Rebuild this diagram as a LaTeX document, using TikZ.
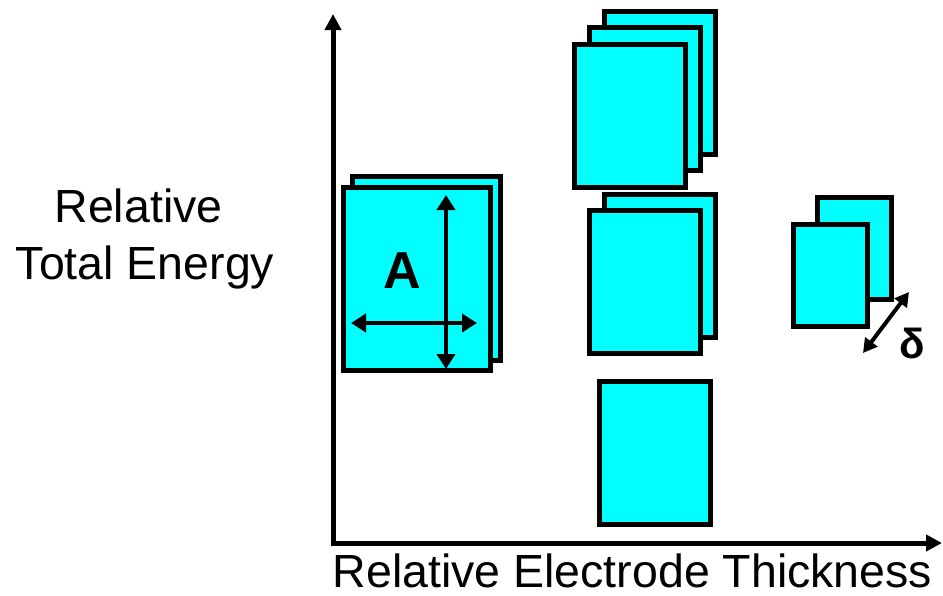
\documentclass[tikz,border=0pt]{standalone}
\usepackage{fontspec}
\setmainfont{Liberation Sans}
\usetikzlibrary{
        arrows.meta,
        positioning
    }
\definecolor{platecyan}{RGB}{0,255,255}
\tikzset{>={Triangle[length=16pt,width=16pt]}}
\tikzset{plate/.style={draw=black,line width=5pt,fill=platecyan,inner sep=0pt,
        minimum width=111pt,minimum height=143pt}}
\tikzset{label text/.style={inner sep=0pt,anchor=base,
        font=\fontsize{46.5}{50}\selectfont}}

\begin{document}
\begin{tikzpicture}[x=1pt,y=-1pt]
                \useasboundingbox (0,0) rectangle (943,595);
                % axes
                \coordinate (origin) at (333,543);
                \coordinate (ytip) at (333,14);
                \coordinate (xtip) at (942,543);
                \draw [line width=5pt,->] (origin) -- (ytip);
                \draw [line width=5pt,->] ([xshift=-2.5pt]origin) -- (xtip);
                % area A
                \node [plate,minimum width=148pt,minimum height=184pt] (a2) at (426.5,268.5) {};
                \node [plate,minimum width=147pt,minimum height=183pt] (a1) at (417,279) {};
                % three plates
                \node [plate] (p3) at (660,83) {};
                \node [plate] (p2) at (645,99) {};
                \node [plate] (p1) at (630,116) {};
                % two plates
                \node [plate] (q2) at (660,266) {};
                \node [plate] (q1) at (645,282) {};
                % one plate
                \node [plate] (r1) at (655,452.5) {};
                % thin plates
                \node [plate,minimum width=74pt,minimum height=102pt] (t2) at (854.5,248.5) {};
                \node [plate,minimum width=74pt,minimum height=102pt] (t1) at (830.5,275.5) {};
                % arrows on A
                \coordinate (atop) at (446,195);
                \coordinate (abot) at (446,369);
                \coordinate (aleft) at (351,323);
                \coordinate (aright) at (477,323);
                \draw [line width=4.5pt,<->,>={Triangle[length=15pt,width=18pt]}] (atop) -- (abot);
                \draw [line width=4.5pt,<->,>={Triangle[length=15pt,width=18pt]}] (aleft) -- (aright);
                \node [label text,font=\fontsize{52}{56}\selectfont\bfseries] (alabel) at (402,288) {A};
                % gap delta
                \coordinate (dlow) at (863,353);
                \coordinate (dhigh) at (909,292);
                \draw [line width=4pt,<->,>={Triangle[length=14pt,width=15pt]}] (dlow) -- (dhigh);
                \node [label text,font=\fontsize{42}{46}\selectfont\bfseries] (dlabel) at (912,358) {δ};
                % axis labels
                \node [label text] (ylabel1) at (138.5,222) {Relative};
                \node [label text] (ylabel2) at (145,279) {Total Energy};
                \node [label text] (xlabel) at (632.5,587) {Relative Electrode Thickness};
            \end{tikzpicture}
\end{document}
